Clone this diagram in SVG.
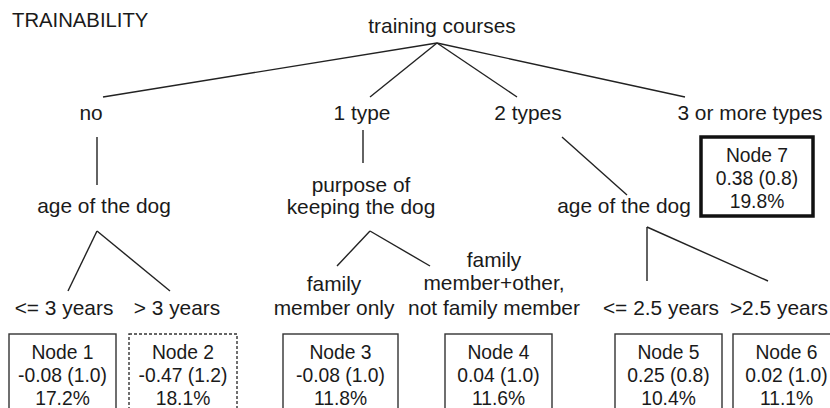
<svg xmlns="http://www.w3.org/2000/svg" width="830" height="408" viewBox="0 0 830 408">
<style>
text{font-family:"Liberation Sans",Arial,sans-serif;fill:#1a1a1a}
.lbl{font-size:20.9px;text-anchor:middle}
.nt{font-size:19.3px;text-anchor:middle}
.box{fill:#fff;stroke:#333;stroke-width:1.4}
.dash{stroke-dasharray:3 2}
.thick{stroke:#111;stroke-width:3.5}
.edge{stroke:#222;stroke-width:1.4;fill:none}
</style>
<rect width="830" height="408" fill="#fff"/>
<text x="12" y="27" style="font-size:20.3px">TRAINABILITY</text>
<g id="connectors">
<line class="edge" x1="437" y1="43" x2="103" y2="97"/>
<line class="edge" x1="437" y1="43" x2="370" y2="97"/>
<line class="edge" x1="437" y1="43" x2="517" y2="97"/>
<line class="edge" x1="437" y1="43" x2="685" y2="97"/>
<line class="edge" x1="97" y1="137" x2="97" y2="185"/>
<line class="edge" x1="363" y1="130" x2="363" y2="163"/>
<line class="edge" x1="562" y1="137" x2="627" y2="195"/>
<line class="edge" x1="97" y1="231" x2="68" y2="291"/>
<line class="edge" x1="97" y1="231" x2="170" y2="291"/>
<line class="edge" x1="370" y1="231" x2="337" y2="266"/>
<line class="edge" x1="370" y1="231" x2="430" y2="266"/>
<line class="edge" x1="647" y1="227" x2="647" y2="281"/>
<line class="edge" x1="647" y1="227" x2="768" y2="281"/>
</g>
<g id="root"><text class="lbl" x="442" y="33">training courses</text></g>
<g id="b-no"><text class="lbl" x="91" y="120">no</text></g>
<g id="b-1type"><text class="lbl" x="362" y="120">1 type</text></g>
<g id="b-2types"><text class="lbl" x="528" y="120">2 types</text></g>
<g id="b-3types"><text class="lbl" x="750" y="120">3 or more types</text></g>
<g id="age1"><text class="lbl" x="104" y="213">age of the dog</text></g>
<g id="purpose"><text class="lbl" x="361" y="192">purpose of</text><text class="lbl" x="361" y="214">keeping the dog</text></g>
<g id="age2"><text class="lbl" x="624" y="213">age of the dog</text></g>
<g id="c-le3"><text class="lbl" x="64" y="315">&lt;= 3 years</text></g>
<g id="c-gt3"><text class="lbl" x="177" y="315">&gt; 3 years</text></g>
<g id="c-fam"><text class="lbl" x="334" y="291">family</text><text class="lbl" x="334" y="315">member only</text></g>
<g id="c-other"><text class="lbl" x="494" y="267">family</text><text class="lbl" x="494" y="290">member+other,</text><text class="lbl" x="494" y="315">not family member</text></g>
<g id="c-le25"><text class="lbl" x="661" y="315">&lt;= 2.5 years</text></g>
<g id="c-gt25"><text class="lbl" x="779" y="315">&gt;2.5 years</text></g>
<g id="node1"><rect class="box" x="9" y="334" width="107" height="90"/><text class="nt" x="62.5" y="359">Node 1</text><text class="nt" x="62.5" y="382">-0.08 (1.0)</text><text class="nt" x="62.5" y="405">17.2%</text></g>
<g id="node2"><rect class="box dash" x="129" y="334" width="108" height="90"/><text class="nt" x="183" y="359">Node 2</text><text class="nt" x="183" y="382">-0.47 (1.2)</text><text class="nt" x="183" y="405">18.1%</text></g>
<g id="node3"><rect class="box" x="283" y="334" width="115" height="90"/><text class="nt" x="340.5" y="359">Node 3</text><text class="nt" x="340.5" y="382">-0.08 (1.0)</text><text class="nt" x="340.5" y="405">11.8%</text></g>
<g id="node4"><rect class="box" x="445" y="334" width="107" height="90"/><text class="nt" x="498.5" y="359">Node 4</text><text class="nt" x="498.5" y="382">0.04 (1.0)</text><text class="nt" x="498.5" y="405">11.6%</text></g>
<g id="node5"><rect class="box" x="615" y="334" width="107" height="90"/><text class="nt" x="668.5" y="359">Node 5</text><text class="nt" x="668.5" y="382">0.25 (0.8)</text><text class="nt" x="668.5" y="405">10.4%</text></g>
<g id="node6"><rect class="box" x="733" y="334" width="107" height="90"/><text class="nt" x="786.5" y="359">Node 6</text><text class="nt" x="786.5" y="382">0.02 (1.0)</text><text class="nt" x="786.5" y="405">11.1%</text></g>
<g id="node7"><rect class="box thick" x="701" y="137" width="112" height="79"/><text class="nt" x="757" y="162">Node 7</text><text class="nt" x="757" y="185">0.38 (0.8)</text><text class="nt" x="757" y="208">19.8%</text></g>
</svg>
